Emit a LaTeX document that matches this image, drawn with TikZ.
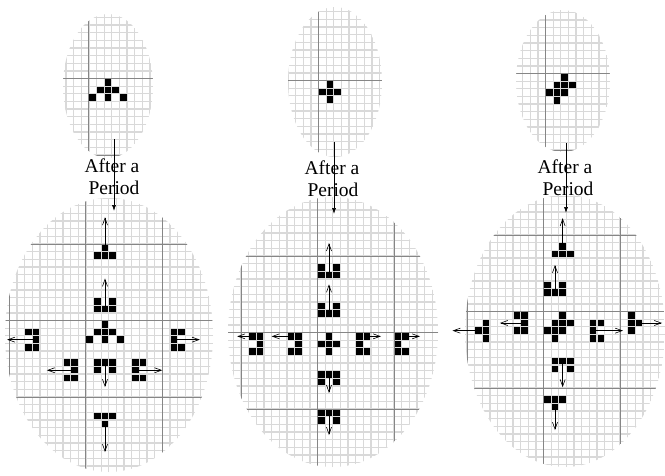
\documentclass[tikz,border=0pt]{standalone}
\usepackage{fontspec}
\setmainfont{Liberation Serif}
\usepackage{tikz}
\usetikzlibrary{arrows.meta}
\newcommand{\pitch}{7.65pt}

\begin{document}
\begin{tikzpicture}[x=1pt, y=-1pt,
    cellline/.style={gray!30, line width=1.3pt},
    axisline/.style={gray!95, line width=0.8pt},
    live/.style={fill=black},
    move/.style={-{Straight Barb[length=7pt,width=5pt]}, line width=0.6pt},
    period/.style={-{Latex[length=6pt,width=4pt]}, line width=0.6pt},
    lbl/.style={font=\fontsize{19.5}{21}\selectfont, inner sep=0pt, anchor=base},
    board/.style 2 args={shift={(#1,#2)}, x=\pitch, y=-\pitch}]
\useasboundingbox (0,0) rectangle (665,475);

% grids, clipped to the ellipses
\foreach \cx/\cy/\rx/\ry/\ox/\oy/\vd in {108/86/45/72/108/90/-2.5,
    335/82/47/75/330/92/-1.5, 563/81/47/71/557/85/-1.5,
    109/335/104/137/105/332/-2.5, 333/332/105/135/329/344/-1.5,
    565/331/100/136/555/323/-1.5} {
  \begin{scope}
    \clip (\cx,\cy) ellipse [x radius=\rx pt, y radius=\ry pt];
    \begin{scope}[board={\ox}{\oy}]
      \foreach \k in {-20,...,19} {
        \draw[cellline] (\k+0.5,-20) -- (\k+0.5,20);
        \draw[cellline] (-20,\k+0.5) -- (20,\k+0.5);
      }
      \foreach \m in {-10,0,10} {
        \draw[axisline] (\vd+\m,-20) -- (\vd+\m,20);
        \draw[axisline] (-20,\m-1.5) -- (20,\m-1.5);
      }
    \end{scope}
  \end{scope}
}

% first column
\begin{scope}[board={108}{90}]
  \foreach \i/\j in {0/-1,-1/0,0/0,1/0,-2/1,0/1,2/1}
    \fill[live] (\i-0.42,\j-0.42) rectangle (\i+0.42,\j+0.42);
\end{scope}
\begin{scope}[board={105}{332}]
  \foreach \i/\j in {0/-11,-1/-10,0/-10,1/-10, -1/-4,1/-4,-1/-3,0/-3,1/-3,
      0/-1,-1/0,0/0,1/0,-2/1,0/1,2/1, -10/0,-9/0,-9/1,-10/2,-9/2,
      9/0,10/0,9/1,9/2,10/2, -5/4,-4/4,-4/5,-5/6,-4/6,
      -1/4,0/4,1/4,-1/5,1/5, 4/4,5/4,4/5,4/6,5/6, -1/11,0/11,1/11,0/12}
    \fill[live] (\i-0.42,\j-0.42) rectangle (\i+0.42,\j+0.42);
  \foreach \a/\b/\c/\d in {0/-11/0/-15, 0/-3/0/-7, -9/1/-12.8/1, 9/1/12.4/1,
      -4/5/-7.6/5, 0/4/0/7.2, 4/5/7.5/5, 0/12/0/15.7}
    \draw[move] (\a,\b) -- (\c,\d);
\end{scope}

% second column
\begin{scope}[board={330}{92}]
  \foreach \i/\j in {0/-1,-1/0,0/0,1/0,0/1}
    \fill[live] (\i-0.42,\j-0.42) rectangle (\i+0.42,\j+0.42);
\end{scope}
\begin{scope}[board={329}{344}]
  \foreach \i/\j in {-1/-10,1/-10,-1/-9,0/-9,1/-9, -1/-5,1/-5,-1/-4,0/-4,1/-4,
      0/-1,-1/0,0/0,1/0,0/1, -10/-1,-9/-1,-9/0,-10/1,-9/1,
      -5/-1,-4/-1,-4/0,-5/1,-4/1, 4/-1,5/-1,4/0,4/1,5/1,
      9/-1,10/-1,9/0,9/1,10/1, -1/4,0/4,1/4,-1/5,1/5, -1/9,0/9,1/9,-1/10,1/10}
    \fill[live] (\i-0.42,\j-0.42) rectangle (\i+0.42,\j+0.42);
  \foreach \a/\b/\c/\d in {0/-9/0/-13.2, 0/-4/0/-7.8, -10/-1/-12/-1, -5/-1/-7.5/-1,
      5/-1/6.8/-1, 10/-1/11.9/-1, 0/4/0/6.4, 0/9/0/11.9}
    \draw[move] (\a,\b) -- (\c,\d);
\end{scope}

% third column
\begin{scope}[board={557}{85}]
  \foreach \i/\j in {1/-1,0/0,1/0,2/0,-1/1,0/1,1/1,0/2}
    \fill[live] (\i-0.42,\j-0.42) rectangle (\i+0.42,\j+0.42);
\end{scope}
\begin{scope}[board={555}{323}]
  \foreach \i/\j in {1/-10,0/-9,1/-9,2/-9, -1/-5,1/-5,-1/-4,0/-4,1/-4,
      1/-1,0/0,1/0,2/0,-1/1,0/1,1/1,0/2, -9/0,-10/1,-9/1,-9/2,
      -5/-1,-4/-1,-4/0,-5/1,-4/1, 5/0,6/0,5/1,5/2,6/2,
      10/-1,10/0,11/0,10/1, 0/5,1/5,2/5,0/6,2/6, -1/10,0/10,1/10,0/11}
    \fill[live] (\i-0.42,\j-0.42) rectangle (\i+0.42,\j+0.42);
  \foreach \a/\b/\c/\d in {1/-10/1/-13.7, 0/-4/0/-7.6, -10/1/-13.4/1, -4/0/-7.2/0,
      5/1/8.9/1, 11/0/14/0, 1/5/1/8.4, 0/11/0/14}
    \draw[move] (\a,\b) -- (\c,\d);
\end{scope}

% labels and period arrows
\node[lbl] (after1) at (112,172) {After a};
\node[lbl] (period1) at (114,194) {Period};
\node[lbl] (after2) at (332,174) {After a};
\node[lbl] (period2) at (333,196) {Period};
\node[lbl] (after3) at (565,173) {After a};
\node[lbl] (period3) at (568,195) {Period};
\coordinate (from1) at (114,139);
\coordinate (to1) at (114,211);
\coordinate (from2) at (334,142);
\coordinate (to2) at (334,214);
\coordinate (from3) at (566,143);
\coordinate (to3) at (566,213);
\foreach \n in {1,2,3}
  \draw[period] (from\n) -- (to\n);
\end{tikzpicture}
\end{document}
